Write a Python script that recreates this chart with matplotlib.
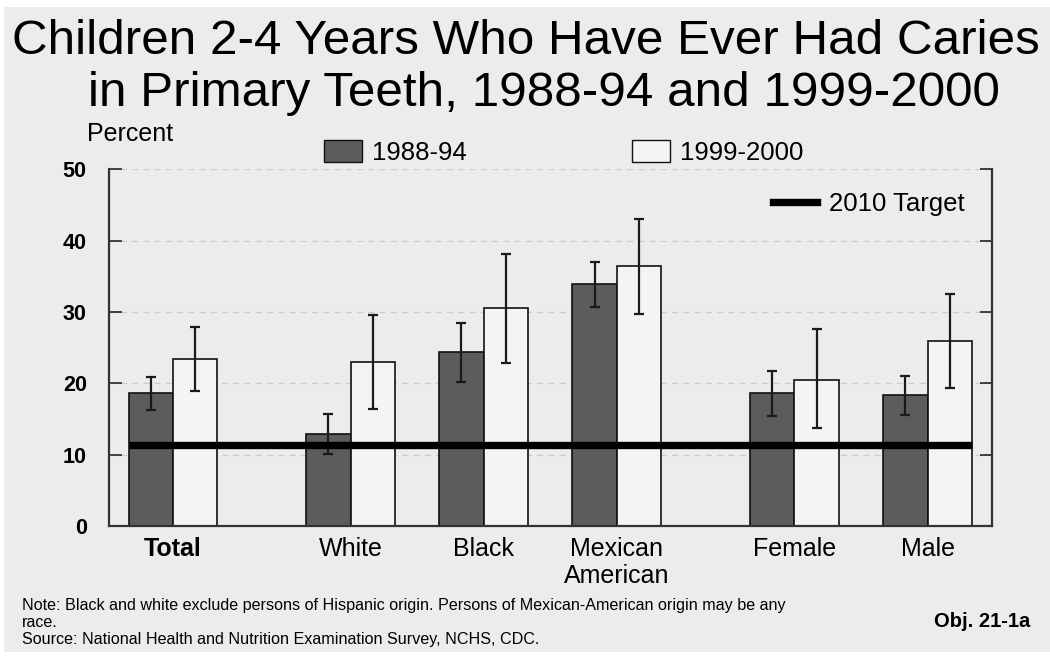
import matplotlib.pyplot as plt
import numpy as np
from matplotlib.patches import Patch, Rectangle
from matplotlib.lines import Line2D

plt.rcParams['font.family'] = ['Liberation Sans', 'DejaVu Sans']

groups = ["Total", "White", "Black", "Mexican\nAmerican", "Female", "Male"]
pos = np.array([0, 4, 7, 10, 14, 17])

v1 = [18.6, 12.9, 24.4, 33.9, 18.6, 18.3]
lo1 = [16.2, 10.1, 20.2, 30.7, 15.4, 15.5]
hi1 = [20.9, 15.7, 28.4, 37.0, 21.8, 21.0]

v2 = [23.4, 23.0, 30.5, 36.4, 20.5, 25.9]
lo2 = [18.9, 16.4, 22.9, 29.7, 13.7, 19.4]
hi2 = [27.9, 29.6, 38.1, 43.0, 27.6, 32.5]

target = 11.3
yticks = [0, 10, 20, 30, 40, 50]

bg = '#ececec'
dark = '#5c5c5c'
light = '#f4f4f4'

fig = plt.figure(figsize=(10.5, 6.56), dpi=100, facecolor='white')
fig.patches.append(Rectangle((0.004, 0.006), 0.996, 0.983, transform=fig.transFigure,
                             facecolor=bg, edgecolor='none', zorder=-10))
ax = fig.add_axes([0.1038, 0.198, 0.841, 0.544])
ax.set_facecolor(bg)

err1 = [np.array(v1) - np.array(lo1), np.array(hi1) - np.array(v1)]
err2 = [np.array(v2) - np.array(lo2), np.array(hi2) - np.array(v2)]
ekw = dict(elinewidth=1.6, capthick=1.6, ecolor='#1a1a1a')

ax.bar(pos - 0.5, v1, width=1, color=dark, edgecolor='#111111', linewidth=1.2,
       yerr=err1, capsize=3.5, error_kw=ekw, zorder=2)
ax.bar(pos + 0.5, v2, width=1, color=light, edgecolor='#111111', linewidth=1.2,
       yerr=err2, capsize=3.5, error_kw=ekw, zorder=2)
ax.hlines(target, pos[0] - 1, pos[-1] + 1, color='black', linewidth=5.3, zorder=3)

ax.set_xlim(-1.44, 18.45)
ax.set_ylim(0, 50)
ax.set_yticks(yticks)
ax.set_yticklabels([str(t) for t in yticks], fontsize=15.5, fontweight='bold')
ax.set_xticks(pos)
ax.set_xticklabels(groups, fontsize=18, linespacing=1.15)
ax.get_xticklabels()[0].set_fontweight('bold')
ax.tick_params(axis='x', length=0, pad=8)
ax.tick_params(axis='y', direction='in', length=9, width=1.3, right=True, pad=16, color='#333333')
ax.grid(axis='y', linestyle=(0, (5, 4)), color='#cccccc', linewidth=0.9, zorder=0)

for s in ['left', 'right', 'bottom']:
    ax.spines[s].set_linewidth(1.6)
    ax.spines[s].set_color('#333333')
ax.spines['top'].set_visible(False)

fig.legend(handles=[Patch(facecolor=dark, edgecolor='#111111', label='1988-94'),
                    Patch(facecolor=light, edgecolor='#111111', label='1999-2000')],
           loc='center left', bbox_to_anchor=(0.309, 0.767), ncol=2, frameon=False,
           fontsize=18.5, handlelength=1.48, handleheight=0.93, handletextpad=0.39,
           columnspacing=6.4, borderpad=0, borderaxespad=0)
fig.legend(handles=[Line2D([], [], color='black', linewidth=5.3, label='2010 Target')],
           loc='center left', bbox_to_anchor=(0.736, 0.689), frameon=False,
           fontsize=18.5, handlelength=1.71, handletextpad=0.47, borderpad=0, borderaxespad=0)

fig.text(0.501, 0.937, "Children 2-4 Years Who Have Ever Had Caries", ha='center', va='center',
         fontsize=35.6)
fig.text(0.518, 0.858, "in Primary Teeth, 1988-94 and 1999-2000", ha='center', va='center',
         fontsize=35.6)
fig.text(0.083, 0.795, "Percent", ha='left', va='center', fontsize=18)

fig.text(0.021, 0.051, "Note: Black and white exclude persons of Hispanic origin. Persons of "
         "Mexican-American origin may be any\nrace.\nSource: National Health and Nutrition "
         "Examination Survey, NCHS, CDC.", ha='left', va='center', fontsize=11.6, linespacing=1.2)
fig.text(0.981, 0.052, "Obj. 21-1a", ha='right', va='center', fontsize=14.5, fontweight='bold')

fig.savefig('out.png', dpi=100, facecolor=fig.get_facecolor())
